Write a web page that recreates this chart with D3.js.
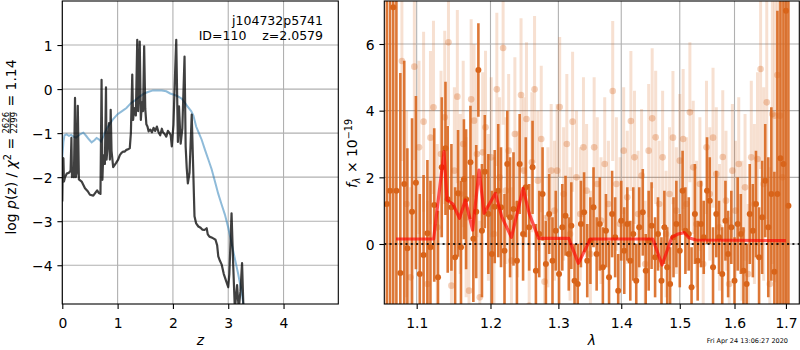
<!DOCTYPE html>
<html><head><meta charset="utf-8">
<script src="https://cdn.jsdelivr.net/npm/d3@7"></script>
<style>body{margin:0;background:#fff}svg{display:block}text{font-family:"DejaVu Sans",sans-serif}</style>
</head><body><svg id="c" width="800" height="350"></svg>
<script>
// ---------- data: left panel (redshift PDF) ----------
const zTicks = [0, 1, 2, 3, 4];
const pTicks = [-4, -3, -2, -1, 0, 1];
const chiZ = [0.00,0.01,0.02,0.03,0.05,0.08,0.12,0.15,0.165,0.175,0.19,0.21,0.23,0.245,0.26,0.28,0.30,0.35,0.41,0.46,0.50,0.56,0.60,0.63,0.66,0.69,0.71,0.725,0.74,0.77,0.79,0.80,0.82,0.845,0.86,0.875,0.89,0.92,0.97,1.01,1.04,1.07,1.10,1.13,1.16,1.20,1.22,1.24,1.265,1.28,1.30,1.33,1.355,1.37,1.38,1.40,1.42,1.44,1.46,1.48,1.50,1.52,1.54,1.56,1.59,1.62,1.65,1.68,1.71,1.74,1.77,1.80,1.82,1.85,1.88,1.91,1.94,1.96,1.98,2.01,2.04,2.06,2.09,2.11,2.14,2.17,2.21,2.23,2.25,2.27,2.30,2.34,2.36,2.39,2.42,2.46,2.50,2.53,2.57,2.61,2.63,2.66,2.70,2.73,2.77,2.80,2.82,2.85,2.88,2.92,2.96,3.00,3.02,3.06,3.09,3.12,3.16,3.19,3.22,3.25,3.28];
const chiLogP = [-2.55,-1.6,-1.57,-2.1,-2.0,-1.92,-1.9,-1.85,-1.11,-2.0,-1.95,-2.0,-0.2,-2.0,-1.9,-0.38,-2.05,-2.1,-2.25,-2.32,-2.4,-2.42,-2.35,-2.3,-2.36,-2.38,0.21,-2.06,-1.5,-1.7,0.04,-1.6,-1.3,-0.77,-1.6,-0.47,-1.4,-1.77,-1.68,-1.6,-1.5,-1.45,-1.42,-1.42,-1.38,-1.36,-1.34,-1.0,0.33,-0.7,-0.43,-0.6,1.12,-0.5,-0.2,1.08,-0.7,-0.3,-0.5,0.97,-0.45,-0.8,-0.85,-0.96,-0.92,-0.98,-0.88,-0.95,-0.85,-0.98,-1.05,-0.9,-0.98,-1.02,-1.08,-0.95,-1.0,-1.05,-1.3,-0.8,0.4,1.12,-1.2,-0.39,-1.24,-0.9,0.74,-1.3,-1.8,-2.14,-1.9,-0.58,-1.5,-2.89,-3.05,-3.12,-3.15,-3.19,-3.2,-3.16,-3.3,-3.35,-3.37,-3.39,-3.42,-3.55,-3.8,-3.9,-3.98,-4.2,-4.35,-4.5,-4.2,-2.82,-4.0,-5.0,-4.45,-5.0,-4.6,-3.95,-5.2];
const priorZ = [0,0.02,0.04,0.08,0.12,0.16,0.2,0.25,0.29,0.33,0.38,0.43,0.48,0.53,0.58,0.62,0.66,0.70,0.75,0.80,0.86,0.92,1.0,1.08,1.16,1.24,1.32,1.40,1.48,1.56,1.64,1.72,1.80,1.88,1.95,2.02,2.1,2.16,2.22,2.28,2.33,2.37,2.42,2.47,2.52,2.58,2.64,2.70,2.76,2.82,2.88,2.94,3.0,3.06,3.12,3.18,3.24,3.3];
const priorLogP = [-1.55,-1.2,-1.05,-1.03,-1.06,-1.04,-1.08,-1.1,-1.06,-1.02,-0.99,-1.06,-1.14,-1.21,-1.16,-1.11,-1.14,-1.19,-1.05,-0.9,-0.79,-0.68,-0.57,-0.5,-0.43,-0.32,-0.25,-0.17,-0.1,-0.06,-0.03,-0.03,-0.03,-0.05,-0.1,-0.13,-0.17,-0.22,-0.32,-0.42,-0.5,-0.6,-0.85,-1.0,-1.15,-1.38,-1.6,-1.82,-2.1,-2.38,-2.62,-2.85,-3.15,-3.5,-3.85,-4.2,-4.6,-5.1];

// ---------- data: right panel (spectrum) ----------
const lamTicks = [1.1, 1.2, 1.3, 1.4, 1.5, 1.6, 1.7];
const fluxTicks = [0, 2, 4, 6];
const darkWave = [1.062,1.066,1.070,1.074,1.079,1.084,1.088,1.094,1.099,1.104,
 1.109,1.114,1.118,1.123,1.128,1.133,1.138,1.141,1.146,1.151,
 1.155,1.159,1.163,1.166,1.172,1.176,1.180,1.183,1.188,1.192,
 1.197,1.202,1.206,1.211,1.215,1.220,1.224,1.228,1.233,1.238,
 1.242,1.247,1.251,1.256,1.261,1.266,1.271,1.276,1.281,1.286,
 1.291,1.296,1.301,1.306,1.311,1.316,1.320,1.325,1.330,1.335,
 1.340,1.345,1.350,1.355,1.360,1.365,1.370,1.375,1.380,1.385,
 1.390,1.395,1.400,1.405,1.410,1.415,1.420,1.425,1.430,1.436,
 1.441,1.446,1.451,1.457,1.462,1.468,1.473,1.478,1.483,1.489,
 1.494,1.500,1.505,1.510,1.516,1.521,1.527,1.532,1.538,1.543,
 1.549,1.554,1.560,1.566,1.571,1.577,1.583,1.588,1.594,1.600,
 1.606,1.612,1.617,1.623,1.629,1.635,1.641,1.647,1.653,1.659,
 1.665,1.671,1.677,1.683,1.689,1.695,1.700,1.705];
const darkFlux = [1.2,1.6,7.1,1.6,-0.87,1.8,-0.13,0.97,1.84,-0.9,
 -0.33,0.32,-0.1,1.17,-1.0,2.3,2.87,1.34,1.1,-0.4,
 1.52,-0.1,1.94,1.34,2.45,0.16,0.97,5.22,0.4,2.17,
 0.9,-0.3,1.12,1.6,1.1,-0.2,2.4,0.8,1.05,-0.5,
 2.4,0.3,1.7,0.5,2.3,-0.8,0.3,1.5,-0.6,0.9,
 -0.5,0.4,-0.9,0.5,0.85,-0.3,0.55,-1.1,-1.2,0.6,
 0.95,-0.5,0.1,1.1,-0.3,0.6,-0.7,0.4,-1.0,0.9,
 0.2,-1.4,0.7,-0.2,0.6,-0.5,0.3,-1.1,0.5,0.95,
 -0.8,0.1,0.55,-0.4,0.3,-1.1,0.5,-0.7,-1.2,0.2,
 0.6,-0.2,1.6,0.4,0.3,-1.3,0.9,-0.5,0.6,0.2,
 1.6,1.3,-0.7,0.9,0.2,-0.9,0.7,-0.3,0.5,-1.1,
 0.6,0.3,-0.8,-1.2,0.9,0.4,1.2,-0.4,0.8,1.9,
 0.5,1.5,-0.83,1.5,2.57,2.4,7.0,1.15];
const darkErr = [12,12,12,12,6,3.7,3.0,2.8,2.6,2.4,
 2.4,2.2,2.0,2.3,2.0,2.1,2.0,2.2,1.9,2.1,
 1.9,2.0,1.8,2.1,1.7,1.9,2.0,1.4,2.0,1.7,
 1.8,1.9,1.7,2.0,1.8,1.7,1.6,1.8,1.7,1.8,
 1.5,1.4,1.5,1.3,1.4,1.4,1.3,1.4,1.3,1.2,
 1.3,1.2,1.1,1.3,1.2,1.1,1.3,1.1,1.2,1.3,
 1.2,1.1,1.3,1.2,1.1,1.4,1.2,1.1,1.1,1.3,
 1.2,1.1,1.2,1.3,1.1,1.2,1.4,1.1,1.2,1.3,
 1.1,1.5,1.3,1.2,1.1,1.3,1.1,1.2,1.1,1.2,
 1.3,1.1,1.2,1.3,1.1,1.2,1.5,1.2,1.3,1.1,
 1.6,1.3,1.2,1.3,1.1,1.4,1.2,1.3,1.1,1.3,
 1.4,1.2,1.3,1.2,1.5,1.4,1.6,1.5,1.7,1.7,
 2.1,2.6,3.0,5.5,12,12,12,12];
const lightWave = [1.081,1.087,1.092,1.097,1.103,1.109,1.114,1.118,1.122,1.127,
 1.132,1.137,1.142,1.146,1.150,1.154,1.158,1.162,1.166,1.170,
 1.173,1.177,1.181,1.185,1.189,1.193,1.197,1.201,1.205,1.209,
 1.213,1.218,1.222,1.226,1.230,1.235,1.239,1.244,1.248,1.252,
 1.256,1.260,1.264,1.269,1.274,1.279,1.284,1.289,1.294,1.298,
 1.302,1.308,1.313,1.318,1.322,1.328,1.334,1.339,1.344,1.350,
 1.356,1.361,1.367,1.373,1.379,1.386,1.392,1.398,1.404,1.410,
 1.416,1.422,1.428,1.434,1.440,1.446,1.452,1.458,1.464,1.470,
 1.476,1.482,1.488,1.494,1.500,1.506,1.512,1.518,1.524,1.530,
 1.536,1.542,1.548,1.554,1.560,1.566,1.572,1.578,1.584,1.590,
 1.596,1.602,1.608,1.614,1.620,1.626,1.632,1.638,1.644,1.650,
 1.656,1.662,1.668,1.673,1.678,1.683,1.688,1.693];
const lightFlux = [5.49,1.2,-1.0,5.32,2.9,3.67,-1.2,3.19,4.1,0.5,
 2.7,3.8,6.05,-1.25,2.2,4.42,1.5,3.0,0.8,-1.4,
 4.34,3.7,2.7,-1.6,2.75,3.5,1.1,2.6,0.3,4.64,
 2.0,5.88,1.6,2.8,-0.5,3.3,1.2,4.47,2.2,3.75,
 -1.85,2.45,4.64,1.9,3.15,-1.13,0.8,2.2,1.0,2.2,
 4.11,1.5,3.0,0.3,3.67,2.0,0.9,2.9,1.6,-0.3,
 2.9,1.8,0.7,2.4,1.2,4.59,1.8,0.6,2.8,1.4,
 3.69,2.6,0.9,2.05,-0.6,2.8,3.77,3.2,1.2,2.6,
 0.3,1.5,3.19,1.0,2.5,3.15,1.2,3.95,2.3,0.6,
 1.8,-0.6,2.9,1.5,3.19,2.1,0.5,2.61,1.3,-1.2,
 2.2,1.0,2.4,0.4,1.7,-0.9,2.6,1.2,2.55,5.25,
 1.8,4.25,-1.2,3.9,3.85,5.07,3.85,2.0];
const lightErr = [3.0,2.8,2.7,2.8,2.6,2.7,2.5,2.6,2.6,2.5,
 2.5,2.6,2.5,2.4,2.5,2.6,2.4,2.5,2.4,2.5,
 2.4,2.3,2.5,2.3,2.4,2.3,2.2,2.4,2.3,2.3,
 2.4,2.3,2.2,2.3,2.2,2.3,2.2,2.3,2.2,2.3,
 2.2,2.1,2.2,2.1,2.2,2.0,2.1,2.0,2.1,2.0,
 2.1,2.0,2.1,2.0,2.1,2.0,2.0,2.1,2.0,1.9,
 2.1,2.0,1.9,2.0,1.9,2.1,2.0,2.0,1.9,2.0,
 2.1,2.0,1.9,2.0,1.9,2.0,2.1,2.0,1.9,2.0,
 1.9,2.0,2.0,1.9,2.0,2.1,2.0,2.1,2.0,1.9,
 2.0,1.9,2.0,2.0,2.1,2.0,1.9,2.0,2.1,2.0,
 2.0,2.1,2.0,2.1,2.2,2.1,2.3,2.4,2.6,3.0,
 2.9,3.5,3.5,4.5,5.0,12,12,12];
const modelWave = [1.0735,1.1222,1.136,1.140,1.148,1.157,1.165,1.175,1.184,1.191,1.207,1.216,1.230,1.247,1.256,1.270,1.316,1.331,1.350,1.453,1.469,1.486,1.497,1.508,1.516,1.529,1.700];
const modelFlux = [0.15,0.15,2.77,1.32,1.2,0.77,1.32,0.42,2.22,0.92,1.52,0.82,0.2,1.67,0.92,0.17,0.17,-0.58,0.15,0.15,-0.63,0.2,0.3,0.34,0.19,0.12,0.1];

const objName = "j104732p5741";
const objInfo = "ID=110\u00a0\u00a0\u00a0\u00a0z=2.0579";
const stamp = "Fri Apr 24 13:06:27 2020";

// ---------- drawing ----------
const svg = d3.select("#c");
const FS = 13.9;
const L = {x0:62.3, x1:338.3, y0:1, y1:304};
const R = {x0:384.3, x1:799.3, y0:1, y1:304};
const xz = d3.scaleLinear().domain([0, 4.99]).range([L.x0, L.x1]);
const yz = d3.scaleLinear().domain([-4.88, 2.0]).range([L.y1, L.y0]);
const xl = d3.scaleLog().domain([1.0588, 1.727]).range([R.x0, R.x1]);
const yl = d3.scaleLinear().domain([-1.8, 7.29]).range([R.y1, R.y0]);

const defs = svg.append("defs");
[["clipL", L], ["clipR", R]].forEach(([id, b]) => {
  defs.append("clipPath").attr("id", id).append("rect")
    .attr("x", b.x0).attr("y", b.y0).attr("width", b.x1 - b.x0).attr("height", b.y1 - b.y0);
});

function grid(b, xs, xv, ys, yv) {
  const g = svg.append("g").attr("stroke", "#b0b0b0").attr("stroke-width", 1.1);
  xv.forEach(v => g.append("line").attr("x1", xs(v)).attr("x2", xs(v)).attr("y1", b.y0).attr("y2", b.y1));
  yv.forEach(v => g.append("line").attr("y1", ys(v)).attr("y2", ys(v)).attr("x1", b.x0).attr("x2", b.x1));
}
grid(L, xz, zTicks, yz, pTicks);
grid(R, xl, lamTicks, yl, fluxTicks);

// left panel curves
const gl = svg.append("g").attr("clip-path", "url(#clipL)");
gl.append("path").datum(priorZ.map((z, i) => [z, priorLogP[i]]))
  .attr("fill", "none").attr("stroke", "#1f77b4").attr("stroke-opacity", 0.5).attr("stroke-width", 2)
  .attr("d", d3.line().x(d => xz(d[0])).y(d => yz(d[1])));
gl.append("path").datum(chiZ.map((z, i) => [z, chiLogP[i]]))
  .attr("fill", "none").attr("stroke", "#000").attr("stroke-opacity", 0.75).attr("stroke-width", 2.2)
  .attr("stroke-linejoin", "round")
  .attr("d", d3.line().x(d => xz(d[0])).y(d => yz(d[1])));

// right panel spectrum
const OR = "#d8641a";
const gr = svg.append("g").attr("clip-path", "url(#clipR)");
const light = lightWave.map((w, i) => ({w, f: lightFlux[i], e: lightErr[i]}));
const dark = darkWave.map((w, i) => ({w, f: darkFlux[i], e: darkErr[i]}));
gr.append("g").selectAll("line").data(light).join("line")
  .attr("x1", d => xl(d.w)).attr("x2", d => xl(d.w))
  .attr("y1", d => yl(d.f - d.e)).attr("y2", d => yl(d.f + d.e))
  .attr("stroke", OR).attr("stroke-opacity", 0.2).attr("stroke-width", 3);
gr.append("g").selectAll("circle").data(light).join("circle")
  .attr("cx", d => xl(d.w)).attr("cy", d => yl(d.f)).attr("r", 3.3)
  .attr("fill", OR).attr("fill-opacity", 0.3);
gr.append("g").selectAll("line").data(dark).join("line")
  .attr("x1", d => xl(d.w)).attr("x2", d => xl(d.w))
  .attr("y1", d => yl(d.f - d.e)).attr("y2", d => yl(d.f + d.e))
  .attr("stroke", OR).attr("stroke-opacity", 0.88).attr("stroke-width", 2.6);
gr.append("g").selectAll("circle").data(dark).join("circle")
  .attr("cx", d => xl(d.w)).attr("cy", d => yl(d.f)).attr("r", 3)
  .attr("fill", OR);
gr.append("line").attr("x1", R.x0).attr("x2", R.x1).attr("y1", yl(0)).attr("y2", yl(0))
  .attr("stroke", "#000").attr("stroke-opacity", 0.85).attr("stroke-width", 2).attr("stroke-dasharray", "2,3.3");
gr.append("path").datum(modelWave.map((w, i) => [w, modelFlux[i]]))
  .attr("fill", "none").attr("stroke", "red").attr("stroke-opacity", 0.65).attr("stroke-width", 3.2)
  .attr("stroke-linejoin", "round")
  .attr("d", d3.line().x(d => xl(d[0])).y(d => yl(d[1])));

// axes
function styleAxis(g) {
  g.select(".domain").remove();
  g.attr("font-family", "DejaVu Sans").attr("font-size", FS);
  g.selectAll(".tick line").attr("stroke", "#000").attr("stroke-width", 1.1);
  g.selectAll(".tick text").attr("fill", "#000");
}
const ax1 = svg.append("g").attr("transform", `translate(0,${L.y1})`)
  .call(d3.axisBottom(xz).tickValues(zTicks).tickFormat(d3.format("d")).tickSize(4.9).tickPadding(4.9));
styleAxis(ax1); ax1.selectAll(".tick text").attr("dy", null).attr("y", 23.5);
const ay1 = svg.append("g").attr("transform", `translate(${L.x0},0)`)
  .call(d3.axisLeft(yz).tickValues(pTicks).tickFormat(d3.format("d")).tickSize(4.9).tickPadding(4.9));
styleAxis(ay1); ay1.selectAll(".tick text").attr("dy", "0.36em");
const ax2 = svg.append("g").attr("transform", `translate(0,${R.y1})`)
  .call(d3.axisBottom(xl).tickValues(lamTicks).tickFormat(d3.format(".1f")).tickSize(4.9).tickPadding(4.9));
styleAxis(ax2); ax2.selectAll(".tick text").attr("dy", null).attr("y", 23.5);
const ay2 = svg.append("g").attr("transform", `translate(${R.x0},0)`)
  .call(d3.axisLeft(yl).tickValues(fluxTicks).tickFormat(d3.format("d")).tickSize(4.9).tickPadding(4.9));
styleAxis(ay2); ay2.selectAll(".tick text").attr("dy", "0.36em");

// spines
[L, R].forEach(b => svg.append("rect").attr("x", b.x0).attr("y", b.y0)
  .attr("width", b.x1 - b.x0).attr("height", b.y1 - b.y0)
  .attr("fill", "none").attr("stroke", "#000").attr("stroke-width", 1.1));

// annotation
svg.append("text").attr("x", 323).attr("y", 24.5).attr("text-anchor", "end").attr("font-size", 12.5).text(objName);
svg.append("text").attr("x", 323).attr("y", 40).attr("text-anchor", "end").attr("font-size", 12.5).text(objInfo);

// x labels
svg.append("text").attr("x", (L.x0 + L.x1) / 2).attr("y", 345).attr("text-anchor", "middle")
  .attr("font-size", FS).attr("font-style", "italic").text("z");
svg.append("text").attr("x", (R.x0 + R.x1) / 2).attr("y", 345).attr("text-anchor", "middle")
  .attr("font-size", FS).attr("font-style", "italic").text("λ");

// rich rotated labels
function richLabel(px, cy, pieces) {
  const g = svg.append("g");
  let x = 0;
  pieces.forEach(p => {
    if (p.frac) {
      const fs = p.size;
      const t1 = g.append("text").attr("font-size", fs).attr("x", x).attr("y", p.ny).text(p.num);
      const t2 = g.append("text").attr("font-size", fs).attr("x", x).attr("y", p.dy).text(p.den);
      const w = Math.max(t1.node().getComputedTextLength(), t2.node().getComputedTextLength());
      g.append("line").attr("x1", x).attr("x2", x + w).attr("y1", p.by).attr("y2", p.by)
        .attr("stroke", "#000").attr("stroke-width", 0.8);
      x += w + 1;
    } else {
      const t = g.append("text").attr("font-size", p.size || FS).attr("x", x).attr("y", p.y || 0)
        .text(p.t.replace(/ /g, "\u00a0"));
      if (p.it) t.attr("font-style", "italic");
      x += t.node().getComputedTextLength();
    }
  });
  g.attr("transform", `translate(${px},${cy + x / 2}) rotate(-90)`);
}
richLabel(16, 147, [
  {t: "log "}, {t: "p", it: true}, {t: "(z) / "}, {t: "χ", it: true},
  {t: "2", size: 9.7, y: -5.5}, {t: " = "},
  {frac: true, num: "2626", den: "2299", size: 8.5, ny: -7.5, dy: 0.5, by: -5.8},
  {t: " = 1.14"}
]);
richLabel(357, 153.5, [
  {t: "f", it: true}, {t: "λ", it: true, size: 9.7, y: 3}, {t: " × 10"}, {t: "−19", size: 9.7, y: -5.5}
]);

// timestamp
svg.append("text").attr("x", 788).attr("y", 343).attr("text-anchor", "end").attr("font-size", 6.5).text(stamp);
</script></body></html>
